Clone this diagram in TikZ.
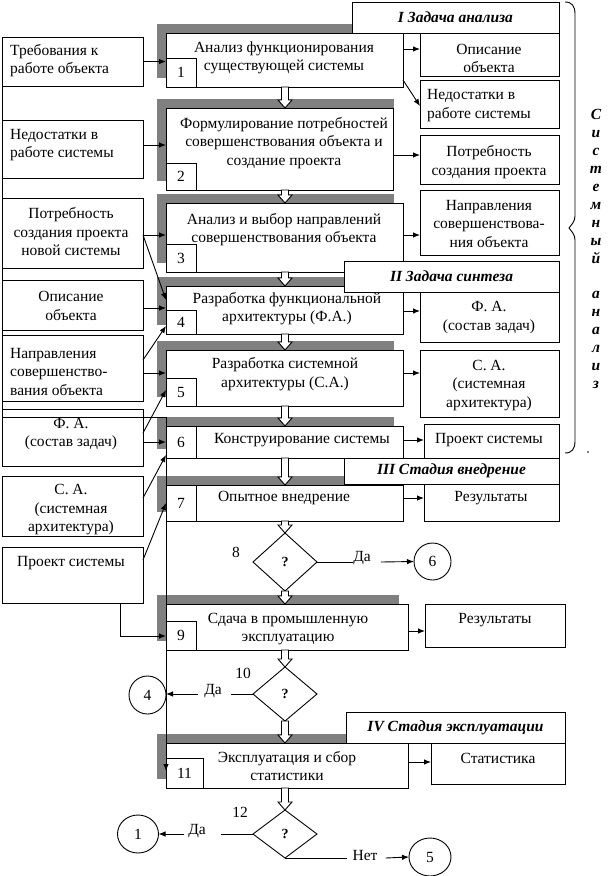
\documentclass[tikz,border=0pt]{standalone}
\usepackage{fontspec}
\setmainfont{Liberation Serif}
\usetikzlibrary{arrows.meta,shapes.geometric,calc}
\definecolor{shadowgray}{RGB}{128,128,128}
\tikzset{
  ln/.style={line width=0.9pt, draw=black},
  bx/.style={ln, fill=white, rectangle, inner sep=0pt, outer sep=0pt, font=\fontsize{15.5}{18.5}\selectfont},
  shd/.style={fill=shadowgray},
  arr/.style={ln, -{Latex[length=7pt,width=5.5pt]}},
  txt/.style={font=\fontsize{15.5}{18.5}\selectfont, align=center, inner sep=0pt},
  ltxt/.style={txt, align=left, anchor=west},
  hdr/.style={font=\fontsize{15.5}{18.5}\selectfont\bfseries\itshape},
  dia/.style={ln, diamond, fill=white, inner sep=0pt, outer sep=0pt, font=\fontsize{14}{16}\selectfont\bfseries},
  circ/.style={ln, ellipse, fill=white, inner sep=0pt, outer sep=0pt, font=\fontsize{15.5}{18.5}\selectfont},
  hol/.style={ln, fill=white},
}
\newcommand\bxat[7][]{\node[bx,#1,minimum width={#4-#2},minimum height={#5-#3}] (#6) at ({(#2+#4)/2},{(#3+#5)/2}) {#7};}
\newcommand\shadowat[4]{\fill[shd] ({#1-9},{#2-9}) rectangle ({#3-9},{#4-9});}
\newcommand\harrow[2]{\path[hol] let \p1=(#1), \p2=(#2) in (\x1-3.5pt,\y1) -- (\x1-3.5pt,\y2+8pt) -- (\x1-7pt,\y2+8pt) -- (\x1,\y2) -- (\x1+7pt,\y2+8pt) -- (\x1+3.5pt,\y2+8pt) -- (\x1+3.5pt,\y1) -- cycle;}
\begin{document}
\begin{tikzpicture}[x=1pt,y=-1pt]
\fill[white] (0,0) rectangle (614,876);
\useasboundingbox (0,0) rectangle (614,876);
% shadows
\shadowat{166}{33}{403}{87}
\fill[shd] (157,99) rectangle (394,181);
\shadowat{166}{203}{403}{272}
\shadowat{166}{286}{403}{334}
\shadowat{166}{350}{403}{406}
\shadowat{166}{426}{403}{458}
\shadowat{166}{485}{403}{521}
\shadowat{166}{604}{408}{650}
\shadowat{166}{743}{408}{788}
% left boxes
\bxat{2}{37}{143}{86}{L1}{}
\bxat{2}{120}{143}{178}{L2}{}
\bxat{2}{198}{143}{268}{L3}{}
\bxat{2}{280}{143}{330}{L4}{}
\bxat{2}{335}{143}{401}{L5}{}
\bxat{2}{409}{143}{466}{L6}{}
\bxat{2}{476}{143}{536}{L7}{}
\bxat{2}{547}{143}{603}{L8}{}
% main boxes
\bxat{166}{33}{403}{87}{M1}{}
\bxat{166}{58}{196}{87}{N1}{1}
\bxat{166}{108}{393}{190}{M2}{}
\bxat{166}{163}{196}{190}{N2}{2}
\bxat{166}{203}{403}{272}{M3}{}
\bxat{166}{244}{196}{272}{N3}{3}
\bxat{166}{286}{403}{334}{M4}{}
\bxat{166}{310}{196}{334}{N4}{4}
\bxat{166}{350}{403}{406}{M5}{}
\bxat{166}{378}{196}{406}{N5}{5}
\bxat{166}{426}{403}{458}{M6}{}
\bxat{166}{426}{196}{458}{N6}{6}
\bxat{166}{485}{403}{521}{M7}{}
\bxat{166}{485}{196}{521}{N7}{7}
\bxat{166}{604}{408}{650}{M9}{}
\bxat{166}{621}{196}{650}{N9}{9}
\bxat{166}{743}{408}{788}{M11}{}
\bxat{166}{758}{203}{788}{N11}{11}
% right boxes
\bxat{420}{33}{559}{76}{R1}{}
\bxat{420}{80}{559}{128}{R2}{}
\bxat{420}{135}{559}{184}{R3}{}
\bxat{420}{190}{559}{255}{R4}{}
\bxat{420}{292}{559}{342}{R5}{}
\bxat{420}{350}{559}{417}{R6}{}
\bxat{424}{424}{559}{458}{R7}{}
\bxat{424}{484}{559}{521}{R8}{}
\bxat{425}{604}{565}{647}{R9}{}
\bxat{431}{743}{565}{784}{R10}{}
% headers
\bxat[hdr]{352}{2}{559}{33}{H1}{I Задача анализа}
\bxat[hdr]{344}{261}{559}{292}{H2}{II Задача синтеза}
\bxat[hdr]{344}{458}{559}{484}{H3}{III Стадия внедрение}
\bxat[hdr]{346}{712}{565}{743}{H4}{IV Стадия эксплуатации}
% decisions and circles
\node[dia, minimum width=64pt, minimum height=58pt] (D8) at (285,562) {?};
\node[dia, minimum width=64pt, minimum height=54pt] (D10) at (285,694) {?};
\node[dia, minimum width=64pt, minimum height=48pt] (D12) at (285,834) {?};
\node[circ, minimum width=37pt, minimum height=37pt] (C6) at (432.5,561.5) {6};
\node[circ, minimum width=37pt, minimum height=38pt] (C4) at (147.5,695) {4};
\node[circ, minimum width=41pt, minimum height=38pt] (C1) at (138,834) {1};
\node[circ, minimum width=42pt, minimum height=38pt] (C5) at (430,857) {5};
% hollow flow arrows
\coordinate (ax) at (285,0);
\harrow{ax |- M1.south}{ax |- M2.north}
\harrow{ax |- M2.south}{ax |- M3.north}
\harrow{ax |- M3.south}{ax |- M4.north}
\harrow{ax |- M4.south}{ax |- M5.north}
\harrow{ax |- M5.south}{ax |- M6.north}
\harrow{ax |- M6.south}{ax |- M7.north}
\harrow{ax |- M7.south}{D8.north}
\harrow{D8.south}{ax |- M9.north}
\harrow{ax |- M9.south}{D10.north}
\harrow{D10.south}{ax |- M11.north}
\harrow{ax |- M11.south}{D12.north}
% texts
\node[ltxt] (tL1) at (10,60.5) {Требования к\\работе объекта};
\node[ltxt] (tL2) at (10,145) {Недостатки в\\работе системы};
\node[txt] (tL3) at (71,232) {Потребность\\создания проекта\\новой системы};
\node[txt] (tL4) at (71,306) {Описание\\объекта};
\node[ltxt] (tL5) at (10,371.5) {Направления\\совершенство-\\вания объекта};
\node[txt] (tL6) at (71,434) {Ф. А.\\(состав задач)};
\node[txt] (tL7) at (71,510) {С. А.\\(системная\\архитектура)};
\node[txt] (tL8) at (71,563) {Проект системы};
\node[txt] (t1) at (284,58) {Анализ функционирования\\существующей системы};
\node[txt] (t2) at (284,143) {Формулирование потребностей\\совершенствования объекта и\\создание проекта};
\node[txt] (t3) at (284,229.5) {Анализ и выбор направлений\\совершенствования объекта};
\node[txt] (t4) at (287,308.5) {Разработка функциональной\\архитектуры (Ф.А.)};
\node[txt] (t5) at (285,374) {Разработка системной\\архитектуры (С.А.)};
\node[txt] (t6) at (302,440) {Конструирование системы};
\node[txt] (t7) at (284,498) {Опытное внедрение};
\node[txt] (t9) at (288,629) {Сдача в промышленную\\эксплуатацию};
\node[txt] (t11) at (287,766) {Эксплуатация и сбор\\статистики};
\node[txt] (tR1) at (489,58.5) {Описание\\объекта};
\node[ltxt] (tR2) at (427,105.5) {Недостатки в\\работе системы};
\node[txt] (tR3) at (489,162) {Потребность\\создания проекта};
\node[txt] (tR4) at (489,223.5) {Направления\\совершенствова-\\ния объекта};
\node[txt] (tR5) at (489,317.5) {Ф. А.\\(состав задач)};
\node[txt] (tR6) at (489,385.5) {С. А.\\(системная\\архитектура)};
\node[txt] (tR7) at (489,440) {Проект системы};
\node[txt] (tR8) at (491,498) {Результаты};
\node[txt] (tR9) at (495,620) {Результаты};
\node[txt] (tR10) at (498,758) {Статистика};
\node[txt] (n8) at (236,552) {8};
\node[txt] (n10) at (243,673) {10};
\node[txt] (n12) at (240,812) {12};
\node[txt] (da8) at (362,558) {Да};
\node[txt] (da10) at (213,691) {Да};
\node[txt] (da12) at (197,831) {Да};
\node[txt] (net) at (365,855) {Нет};
% left-to-main connectors
\draw[arr] (L1.east) -- (L1.east -| M1.west);
\draw[arr] (L2.east |- 0,145) -- (M2.west |- 0,145);
\draw[arr] (L3.east |- 0,235) -- (M3.west |- 0,235);
\draw[arr] (L3.east |- 0,235) -- (M4.west |- 0,300);
\draw[arr] (L4.east |- 0,308) -- (M4.west |- 0,308);
\draw[arr] (L5.east |- 0,360) -- (M4.west |- 0,326);
\draw[arr] (L5.east |- 0,373) -- (M5.west |- 0,373);
\draw[arr] (L6.east |- 0,433) -- (M5.west |- 0,390);
\draw[arr] (L6.east |- 0,442) -- (M6.west |- 0,442);
\draw[arr] (L7.east |- 0,498) -- (M6.west |- 0,455);
\draw[arr] (L8.east |- 0,560) -- (M7.west |- 0,503);
\coordinate (p8) at (120,636);
\draw[arr] (L8.south -| p8) -- (p8) -- (p8 -| M9.west);
% bus
\coordinate (bt) at (2,417);
\coordinate (be) at (166,771);
\draw[arr] (L1.north west) -- (bt) -- (bt -| be) -- (be);
% main-to-right connectors
\draw[arr] (M1.east |- 0,49) -- (R1.west |- 0,49);
\draw[arr] ($(M1.south east)+(0,-7)$) -- ($(R2.west)+(0,2)$);
\draw[arr] (M2.east |- 0,155) -- (R3.west |- 0,155);
\draw[arr] (M3.east |- 0,235) -- (R4.west |- 0,235);
\draw[arr] (M4.east |- 0,311) -- (R5.west |- 0,311);
\draw[arr] (M5.east |- 0,373) -- (R6.west |- 0,373);
\draw[arr] (M6.east |- 0,440) -- (R7.west |- 0,440);
\draw[arr] (M7.east |- 0,498) -- (R8.west |- 0,498);
\draw[arr] (M9.east |- 0,631) -- (R9.west |- 0,631);
\draw[arr] (M11.east |- 0,762) -- (R10.west |- 0,762);
% decision connectors
\draw[ln] (D8.east) -- (da8.west |- D8.east);
\draw[arr] ($(da8.east |- D8.east)+(10,0)$) -- (C6.west);
\draw[ln] (D10.west) -- ($(da10.east |- D10.west)+(9,0)$);
\draw[arr] ($(da10.west |- D10.west)+(-6,0)$) -- (C4.east |- D10.west);
\draw[ln] (D12.west) -- ($(da12.east |- D12.west)+(15,0)$);
\draw[arr] ($(da12.west |- D12.west)+(-4,0)$) -- (C1.east);
\draw[ln] (D12.south) -- ($(net.west |- D12.south)+(-5,0)$);
\draw[arr] ($(net.east |- D12.south)+(8,0)$) -- (C5.west);
% brace and vertical caption
\draw[ln] (565,2) .. controls (572,2) and (575,6) .. (575,14) -- (575,216)
  .. controls (575,222) and (571,225) .. (569,228)
  .. controls (571,231) and (575,234) .. (575,240) -- (575,441)
  .. controls (575,449) and (572,453) .. (565,453);
\node[font=\fontsize{15.5}{17.9}\selectfont\bfseries\itshape, align=center, inner sep=0pt] (sa) at (596,249)
  {С\\и\\с\\т\\е\\м\\н\\ы\\й\\\mbox{}\\а\\н\\а\\л\\и\\з};
\fill (588,452) circle (0.8);
\end{tikzpicture}
\end{document}
